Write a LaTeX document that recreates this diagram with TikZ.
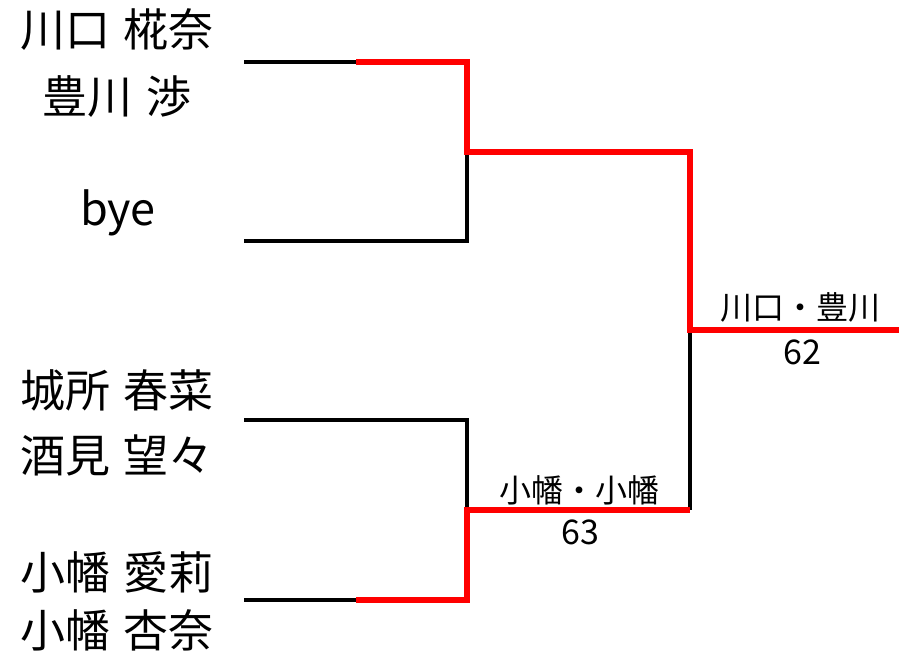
\documentclass[tikz,border=0pt]{standalone}
\usepackage{fontspec}
\setmainfont{Noto Sans CJK JP}
\usetikzlibrary{positioning}

\begin{document}
\begin{tikzpicture}[x=0.5pt,y=-0.5pt,
	player/.style={font=\fontsize{22.5}{27}\selectfont},
	winner/.style={font=\fontsize{16}{19}\selectfont},
	score/.style={font=\fontsize{17}{20}\selectfont},
	lost/.style={line width=1.7pt,black},
	won/.style={line width=3pt,red}]
\useasboundingbox (0,0) rectangle (899,653);
% players
\node[player] (p1a) at (117,30) {川口\hspace{0.3em}椛奈};
\node[player] (p1b) at (117,97) {豊川\hspace{0.3em}渉};
\node[player] (p2) at (118,213) {bye};
\node[player] (p3a) at (117,390) {城所\hspace{0.3em}春菜};
\node[player] (p3b) at (117,455) {酒見\hspace{0.3em}望々};
\node[player] (p4a) at (117,572) {小幡\hspace{0.3em}愛莉};
\node[player] (p4b) at (117,630) {小幡\hspace{0.3em}杏奈};
% bracket
\coordinate (s1) at (244,62);
\coordinate (h1) at (356,62);
\coordinate (s2) at (244,241);
\coordinate (s3) at (244,420);
\coordinate (s4) at (244,600);
\coordinate (h4) at (356,600);
\coordinate (r1) at (467,152);
\coordinate (r2) at (467,510);
\coordinate (f) at (690,330);
\coordinate (q) at (690,510);
\coordinate (out) at (899,330);
\draw[lost] (s1) -- (h1);
\draw[lost] (s2) -| (r1);
\draw[lost] (s3) -| (r2);
\draw[lost] (s4) -- (h4);
\draw[lost] (q) -- (f);
\draw[won] (h1) -| (r1) -| (f) -- (out);
\draw[won] (h4) -| (r2) -- (q);
% results
\node[winner] (w2) at (579,490) {小幡・小幡};
\node[score] (n2) at (580,532) {63};
\node[winner] (w1) at (800,307) {川口・豊川};
\node[score] (n1) at (802,352) {62};
\end{tikzpicture}
\end{document}
